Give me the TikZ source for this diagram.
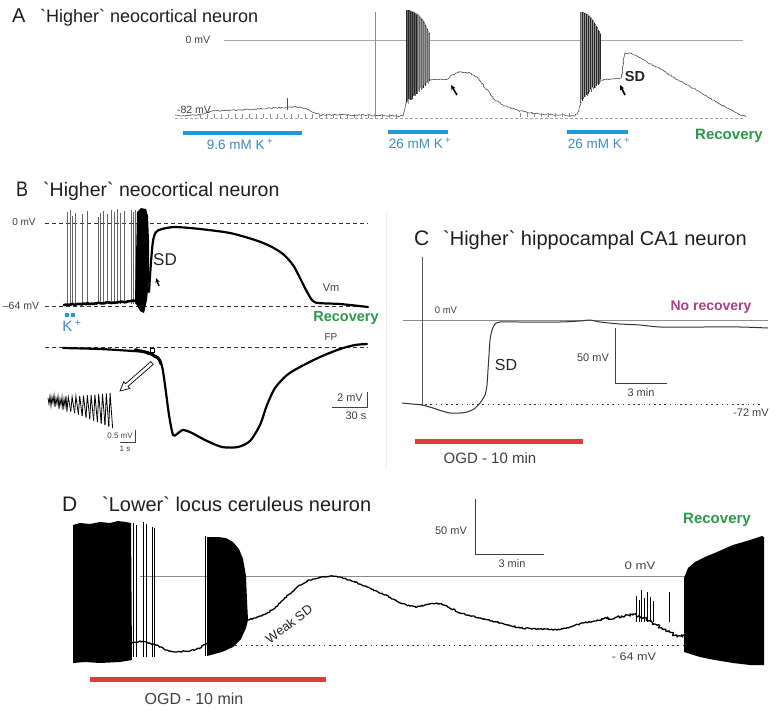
\documentclass[tikz,border=0pt]{standalone}
\usepackage{fontspec}
\setmainfont{Liberation Sans}[Ligatures=TeXOff]
\usetikzlibrary{decorations.pathmorphing,arrows.meta}
\definecolor{kblue}{HTML}{1F9AD6}
\definecolor{kbluetxt}{HTML}{3A8CCB}
\definecolor{recgreen}{HTML}{2A9A4A}
\definecolor{nomag}{HTML}{B23A8A}
\definecolor{ogdred}{HTML}{E03C3C}
\newcommand{\fsz}[1]{\fontsize{#1}{#1}\selectfont}
\begin{document}
\begin{tikzpicture}[x=1pt,y=-1pt,
  txt/.style={inner sep=0pt, text=black!85},
  ttl/.style={inner sep=0pt, anchor=base west, text=black!88},
  small/.style={txt, text=black!75},
  rec/.style={inner sep=0pt, text=recgreen, font=\bfseries\fsz{15}},
  kbar/.style={draw=kblue, line width=4pt},
  kl/.style={inner sep=0pt, text=kbluetxt, font=\fsz{13.5}},
  ogdbar/.style={draw=ogdred, line width=5pt},
  zeroline/.style={draw=black!45, line width=0.6pt},
  bdash/.style={draw=black!80, line width=0.7pt, dash pattern=on 4pt off 3pt},
  dotl/.style={draw=black!80, line width=1pt, dash pattern=on 1.6pt off 3.6pt},
  scalebar/.style={draw=black!75, line width=0.9pt},
  noisy/.style={decorate, decoration={random steps, segment length=1.5pt, amplitude=0.7pt}},
  atrace/.style={draw=black!70, line width=0.6pt},
  atick/.style={draw=black!45, line width=0.3pt},
  bspike/.style={draw=black!60, line width=0.6pt},
  btrace/.style={draw=black, line width=2.2pt, line join=round, line cap=round},
  ctrace/.style={draw=black!80, line width=1pt},
  dtrace/.style={draw=black, line width=1.3pt, line join=round},
]
\pgfmathsetseed{11}
\useasboundingbox (0,0) rectangle (784,712);
\fill[white] (0,0) rectangle (784,712);

% ================= PANEL A =================
\node[ttl, font=\fsz{20}] (Alet) at (12,23) {A};
\node[ttl, font=\fsz{18}] (Atit) at (40,23) {`Higher` neocortical neuron};
\node[small, font=\fsz{10.5}] (A0) at (198,40) {0 mV};
\node[small, font=\fsz{10.5}] (A82) at (194,110) {-82 mV};
\draw[zeroline, draw=black!35] (224,40) -- (743,40);
\draw[draw=black!45, line width=0.5pt] (375,12) -- (375,117);
\draw[draw=black!35, line width=0.5pt, dash pattern=on 3pt off 2pt] (175,118) -- (745,118);
% trace
\draw[atrace, noisy] (175,115) -- (185,116) -- (195,115) -- (203,114) -- (212,111) -- (240,110) -- (270,108) -- (295,107) -- (305,108) -- (312,112) -- (320,115) -- (360,115) -- (400,116) -- (403,116);
\foreach \x in {200,207,...,400} \draw[atick] (\x,114) -- (\x,118);
\draw[atrace, line width=0.4pt] (287,98) -- (287,110);
\draw[atrace] (403,116) -- (405,108) -- (407,98);
\fill[black!50] (406.5,10) -- (412,11) -- (418,14) -- (424,21) -- (429.7,34) -- (429.7,81) -- (420,88) -- (412,96) -- (406.5,103) -- cycle;
\foreach \i in {0,...,34} {
  \pgfmathsetmacro\xx{406.5+0.68*\i}
  \pgfmathsetmacro\tp{10+24*(\i/34)^2}
  \pgfmathsetmacro\bt{103-22*(\i/34)+2*rand}
  \pgfmathtruncatemacro\sh{mod(\i,3)==0 ? 85 : (mod(\i,3)==1 ? 60 : 40)}
  \draw[draw=black!\sh, line width=0.45pt] (\xx,\tp) -- (\xx,\bt);
}
\draw[atrace, noisy] (430,80) -- (440,79) -- (448,79) -- (452,75) -- (460,72) -- (470,73) -- (477,77) -- (485,88) -- (495,100) -- (505,106) -- (520,111) -- (540,114) -- (560,115) -- (575,116) -- (578,112) -- (581,102);
\foreach \x in {520,527,...,575} \draw[atick] (\x,113) -- (\x,117);
\fill[black!50] (580,12) -- (585,13) -- (590,16) -- (595,23) -- (600.4,34) -- (600.4,81) -- (592,88) -- (585,95) -- (580,101) -- cycle;
\foreach \i in {0,...,30} {
  \pgfmathsetmacro\xx{580+0.68*\i}
  \pgfmathsetmacro\tp{12+22*(\i/30)^2}
  \pgfmathsetmacro\bt{101-20*(\i/30)+2*rand}
  \pgfmathtruncatemacro\sh{mod(\i,3)==0 ? 85 : (mod(\i,3)==1 ? 60 : 40)}
  \draw[draw=black!\sh, line width=0.45pt] (\xx,\tp) -- (\xx,\bt);
}
\draw[atrace, noisy] (601,80) -- (612,79) -- (621,78) -- (623,66) -- (625,53) -- (630,53) -- (640,58) -- (660,69) -- (680,81) -- (700,92) -- (718,103) -- (733,111) -- (746,117);
\draw[-{Stealth[length=5pt,width=4.5pt]}, line width=1.6pt] (457,95) -- (451,85);
\draw[-{Stealth[length=5pt,width=4.5pt]}, line width=1.6pt] (625,95) -- (620,85);
\node[txt, font=\bfseries\fsz{14.5}] (ASD) at (635,77) {SD};
\draw[kbar] (183,133) -- (302,133);
\draw[kbar] (388,132) -- (448,132);
\draw[kbar] (567,132) -- (628,132);
\node[kl] (AK1) at (240,144) {9.6 mM K\,\textsuperscript{+}};
\node[kl] (AK2) at (420,143) {26 mM K\,\textsuperscript{+}};
\node[kl] (AK3) at (599,143) {26 mM K\,\textsuperscript{+}};
\node[rec] (Arec) at (729,136) {Recovery};

% ================= PANEL B =================
\node[ttl, font=\fsz{20}] (Blet) at (16,196) {\scalebox{0.9}[1.05]{B}};
\node[ttl, font=\fsz{19.5}] (Btit) at (43,196) {`Higher` neocortical neuron};
\node[small, font=\fsz{10}] (B0) at (24,222) {0 mV};
\node[small, font=\fsz{10.5}] (B64) at (21,306) {–64 mV};
\draw[bdash] (45,223) -- (368,223);
\draw[bdash] (45,306) -- (368,306);
\draw[bdash] (45,347) -- (368,347);
\foreach \x/\t in {67/212,70/210,72/216,75/213,82/214,87/211,98/217,100/213,103/211,107/214,111/210,114/212,117/209,120/213,124/211,131/210,133/212,135/210}
  \draw[bspike] (\x,304) -- (\x,\t);
\draw[btrace, line width=2.6pt, noisy] (64,305) -- (80,304) -- (100,303) -- (120,302) -- (136,301);
\fill[black] (135,302) -- (137,212) -- (141,208) -- (146,209) -- (148,216) -- (149,240) -- (149,280) -- (147,300) -- (144,313) -- (140,311) -- cycle;
\draw[btrace] plot[smooth, tension=0.45] coordinates {(149,292) (151,262) (153,241) (156,232) (162,229) (175,227) (200,229) (230,233) (255,240) (270,246) (283,254) (293,265) (300,278) (306,290) (312,300) (318,303) (340,304) (368,307)};
\node[txt, font=\fsz{17}] (BSD) at (165,260) {SD};
\draw[-{Stealth[length=5pt,width=4.5pt]}, line width=1.4pt] (159,286) -- (156,278);
\node[small, font=\fsz{11}] (BVm) at (331,288) {Vm};
\fill[kblue] (65,313) rectangle (69,317);
\fill[kblue] (71,313) rectangle (75,317);
\node[inner sep=0pt, text=kbluetxt, font=\fsz{15}] (BK) at (72,326) {K\,\textsuperscript{+}};
\node[rec, font=\bfseries\fsz{14.5}] (Brec) at (346,318) {Recovery};
\node[small, font=\fsz{10}] (BFP) at (331,337) {FP};
% FP trace
\draw[btrace] plot[smooth, tension=0.45] coordinates {(63,348) (100,349) (133,351) (145,352) (152,355) (158,358) (162,366) (165,385) (169,415) (173,435) (177,434) (183,430) (192,433) (205,440) (222,447) (238,447) (250,441) (260,425) (267,405) (275,388) (287,375) (300,367) (320,357) (340,349) (355,345) (367,344)};
\draw[btrace, line width=3pt, noisy] (135,350) -- (145,352) -- (152,354) -- (158,358) -- (161,364);
\draw[black, line width=0.5pt] (150,348) rectangle (154,352);
% hollow arrow
\draw[black, fill=white, line width=0.7pt, line join=miter] (153.2,364.4) -- (128.0,386.4) -- (129.8,388.5) -- (120,391) -- (123.8,381.7) -- (125.6,383.7) -- (150.8,361.6) -- cycle;
% inset
\draw[black, line width=0.8pt] (48,398) -- (49,404) -- (50,396) -- (51,406) -- (52,397) -- (53,403) -- (54,395) -- (55,407) -- (56,398) -- (57,404) -- (58,396) -- (59,409) -- (60,399) -- (61,405) -- (62,397) -- (63,410) -- (64,399) -- (65,406) -- (66,396) -- (67,412);
\foreach \i in {0,...,11} {
  \pgfmathsetmacro\xa{67+3.8*\i}
  \pgfmathsetmacro\xb{67+3.8*\i+1.3}
  \pgfmathsetmacro\xc{67+3.8*(\i+1)}
  \pgfmathsetmacro\ya{410+1.5*\i}
  \pgfmathsetmacro\yb{397-0.35*\i}
  \pgfmathsetmacro\yc{410+1.5*(\i+1)}
  \draw[black, line width=0.8pt] (\xa,\ya) -- (\xb,\yb) -- (\xc,\yc);
}
\draw[scalebar] (135,430) -- (135,442) -- (120,442);
\node[small, font=\fsz{8}] (Bins1) at (120,436) {0.5 mV};
\node[small, font=\fsz{8}] (Bins2) at (125,449) {1 s};
\draw[scalebar] (367,392) -- (367,407) -- (332,407);
\node[small, font=\fsz{11}] (Bsc1) at (350,398) {2 mV};
\node[small, font=\fsz{11}] (Bsc2) at (356,416) {30 s};

% ================= PANEL C =================
\draw[black!7, line width=0.8pt] (386,212) -- (386,470);
\node[ttl, font=\fsz{21}] (Clet) at (414,245) {C};
\node[ttl, font=\fsz{20}] (Ctit) at (443,245) {`Higher` hippocampal CA1 neuron};
\draw[zeroline] (403,320) -- (768,320);
\draw[black!65, line width=0.7pt] (422,257) -- (422,405);
\node[small, font=\fsz{9.5}] (C0) at (446,310) {0 mV};
\node[inner sep=0pt, text=nomag, font=\bfseries\fsz{14}] (Cnr) at (711,307) {No recovery};
\draw[dotl] (420,404) -- (763,404);
\draw[ctrace] plot[smooth, tension=0.4] coordinates {(402,403) (412,404) (422,405) (433,408) (442,411) (450,413) (460,413) (467,412) (474,409) (480,403) (485,395) (487,385) (488,370) (489,355) (490,340) (492,330) (495,324) (500,322) (520,322) (560,322) (580,321) (590,320) (600,322) (620,324) (640,325) (660,327) (700,327) (740,327) (768,328)};
\node[txt, font=\fsz{16}] (CSD) at (506,365) {SD};
\draw[scalebar] (615,328) -- (615,383) -- (667,383);
\node[small, font=\fsz{11}] (Csc1) at (593,358) {50 mV};
\node[small, font=\fsz{11}] (Csc2) at (641,393) {3 min};
\node[small, font=\fsz{11}] (C72) at (751,413) {-72 mV};
\draw[ogdbar] (415,441) -- (583,441);
\node[txt, text=black!75, font=\fsz{15}] (Cogd) at (490,458) {OGD - 10 min};

% ================= PANEL D =================
\node[ttl, font=\fsz{21}] (Dlet) at (62,511) {D};
\node[ttl, font=\fsz{20}] (Dtit) at (102,511) {`Lower` locus ceruleus neuron};
\draw[zeroline] (140,576) -- (685,576);
\draw[dotl] (225,645) -- (683,645);
% burst 1
\fill[black] (73,525) -- (80,523) -- (90,524) -- (100,522) -- (110,523) -- (118,521) -- (126,522) -- (131,523) -- (132,660) -- (120,662) -- (100,663) -- (85,662) -- (73,663) -- cycle;
\foreach \x/\t in {133/523,136/525,143/522,146/524,152/527,154/528}
  \draw[black, line width=0.9pt] (\x,\t) -- (\x,657);
\draw[dtrace, noisy] (132,643) -- (140,641) -- (150,643) -- (157,645) -- (165,650) -- (175,652) -- (190,651) -- (200,648) -- (207,643);
% burst 2
\fill[black] (207,537) -- (218,537) -- (226,538) -- (233,542) -- (239,549) -- (243,559) -- (246,576) -- (247,600) -- (248,620) -- (246,628) -- (241,639) -- (233,647) -- (222,652) -- (207,656) -- cycle;
\draw[black, line width=0.8pt] (205,536) -- (205,656);
% weak SD trace
\draw[dtrace, noisy] (248,620) -- (258,617) -- (267,613) -- (275,608) -- (283,600) -- (292,592) -- (300,585) -- (310,580) -- (320,577) -- (330,576) -- (338,577) -- (350,580) -- (367,587) -- (385,595) -- (400,603) -- (410,606) -- (417,607) -- (425,605) -- (437,603) -- (447,606) -- (460,613) -- (480,618) -- (500,623) -- (520,628) -- (540,629) -- (557,630) -- (570,627) -- (583,623) -- (600,620);
\draw[dtrace, decorate, decoration={random steps, segment length=1.2pt, amplitude=1.6pt}] (600,620) -- (617,617) -- (633,614) -- (645,618) -- (655,624) -- (662,629) -- (670,632) -- (677,637) -- (684,635);
\foreach \x/\t in {636/596,639/600,641/590,644/598,647/592,650/597,653/601,669/592}
  \draw[black, line width=0.8pt] (\x,\t) -- (\x,622);
% burst 3
\fill[black] (684,578) -- (688,568) -- (695,562) -- (705,557) -- (717,552) -- (733,545) -- (750,540) -- (756,538) -- (762,536) -- (764,537) -- (764,665) -- (750,665) -- (733,663) -- (715,660) -- (700,657) -- (684,652) -- cycle;
\node[rec] (Drec) at (717,520) {Recovery};
\node[small, font=\fsz{11}] (D0) at (640,566) {\scalebox{1.2}[1]{0 mV}};
\node[small, font=\fsz{11}] (D64) at (634,657) {\scalebox{1.15}[1]{- 64 mV}};
\draw[scalebar] (475,499) -- (475,554) -- (544,554);
\node[small, font=\fsz{11}] (Dsc1) at (451,531) {50 mV};
\node[small, font=\fsz{11}] (Dsc2) at (512,564) {3 min};
\node[txt, font=\fsz{13}, rotate=37] (DWSD) at (289,624) {Weak SD};
\draw[ogdbar] (90,679) -- (326,679);
\node[txt, text=black!75, font=\fsz{16}] (Dogd) at (194,699) {OGD - 10 min};
\end{tikzpicture}
\end{document}
